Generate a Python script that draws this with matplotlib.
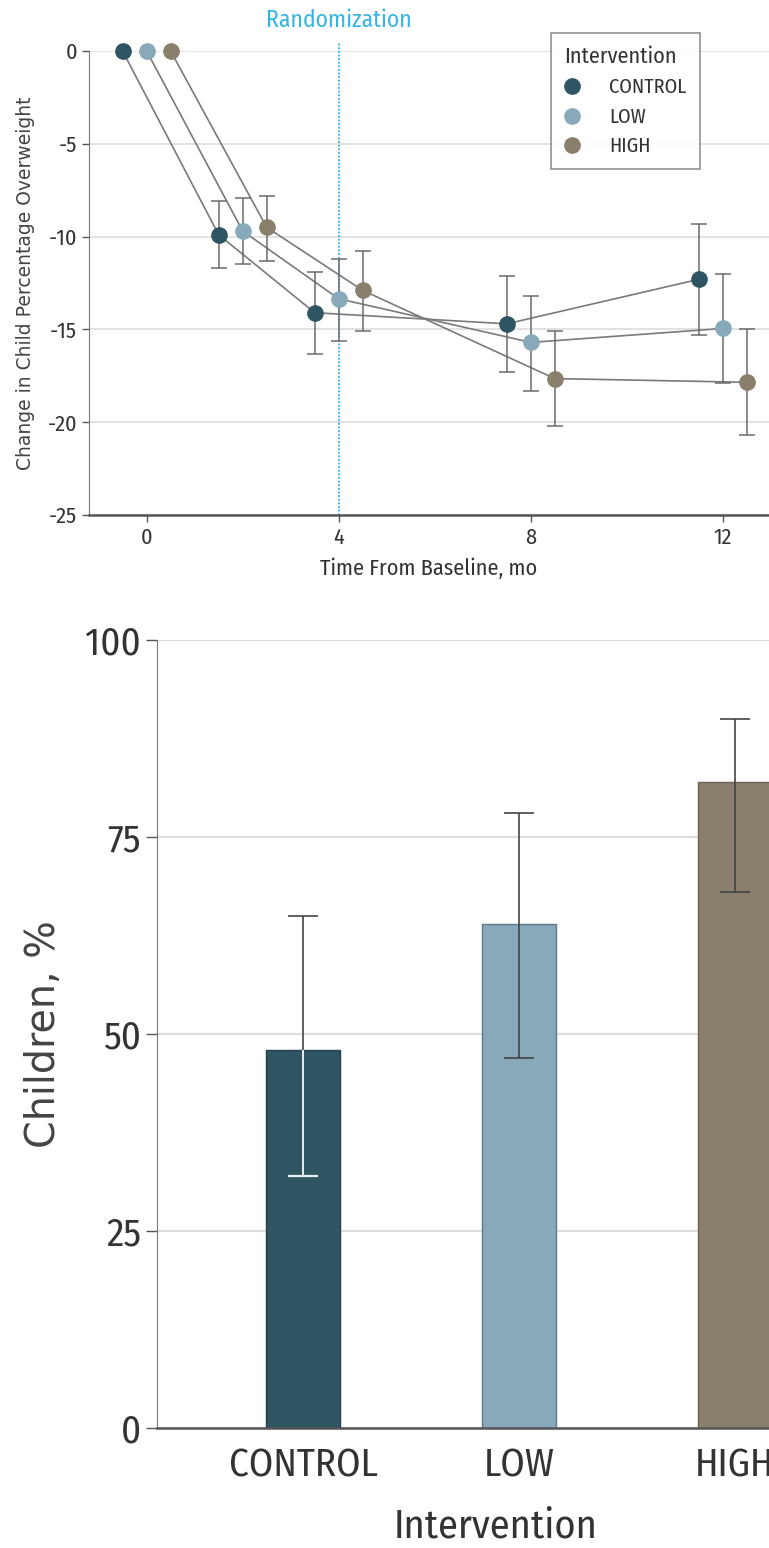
import matplotlib
matplotlib.use('Agg')
import matplotlib.pyplot as plt
import numpy as np
from matplotlib.lines import Line2D
from matplotlib import font_manager as fm

# data
groups = ['CONTROL', 'LOW', 'HIGH']
colors = ['#2e5561', '#87a9ba', '#8a7f6d']
months = np.array([0, 2, 4, 8, 12])
offsets = [-0.5, 0.0, 0.5]

control_change = [0, -9.9, -14.1, -14.7, -12.3]
control_lo = [np.nan, -11.7, -16.3, -17.3, -15.3]
control_hi = [np.nan, -8.1, -11.9, -12.1, -9.3]
low_change = [0, -9.7, -13.35, -15.7, -14.95]
low_lo = [np.nan, -11.5, -15.6, -18.3, -17.9]
low_hi = [np.nan, -7.9, -11.2, -13.2, -12.0]
high_change = [0, -9.5, -12.9, -17.65, -17.85]
high_lo = [np.nan, -11.3, -15.1, -20.2, -20.7]
high_hi = [np.nan, -7.8, -10.8, -15.1, -15.0]

pct_children = [48, 64, 82]
pct_lo = [32, 47, 68]
pct_hi = [65, 78, 90]

# pick a condensed face if one is installed
have = set(f.name for f in fm.fontManager.ttflist)
narrow = [f for f in ['Fira Sans Condensed', 'PT Sans Narrow', 'Roboto Condensed',
                      'Encode Sans Condensed', 'Open Sans'] if f in have][:1] + ['DejaVu Sans']
wide = ['DejaVu Sans']
txt = '#333333'
grid_c = '#dddddd'

fig = plt.figure(figsize=(7.69, 15.48), dpi=100)

# ---- top panel: change over time
ax = fig.add_axes([89/769, 1-515/1548, 1-89/769, (515-51)/1548])
series = [(control_change, control_lo, control_hi),
          (low_change, low_lo, low_hi),
          (high_change, high_lo, high_hi)]
for (vals, lo, hi), off, col in zip(series, offsets, colors):
    x = months + off
    vals = np.array(vals); lo = np.array(lo); hi = np.array(hi)
    ax.plot(x, vals, color='#7a7a7a', lw=1.2, zorder=2)
    ax.errorbar(x, vals, yerr=[vals - lo, hi - vals], fmt='none', ecolor='#6b6b6b',
                elinewidth=1.1, capsize=6, capthick=1.1, zorder=3)
    ax.plot(x, vals, 'o', color=col, ms=11, zorder=4, clip_on=False)

ax.axvline(4, ymin=0, ymax=1.017, color='#2bb3e6', lw=1.3, ls=(0, (1, 1)), zorder=1, clip_on=False)
ax.text(4, 1.65, 'Randomization', color='#36b4e4', ha='center', va='center',
        fontsize=17, family=narrow)

ax.set_xlim(-1.2, 12.96)
ax.set_ylim(-25, 0)
ax.set_xticks([0, 4, 8, 12])
ax.set_yticks([0, -5, -10, -15, -20, -25])
ax.set_yticklabels(['0', '-5', '-10', '-15', '-20', '-25'])
ax.yaxis.grid(True, color=grid_c, lw=1.2)
ax.set_axisbelow(True)
for s in ['top', 'right']:
    ax.spines[s].set_visible(False)
ax.spines['left'].set_color('#777777')
ax.spines['bottom'].set_color('#555555')
ax.spines['bottom'].set_linewidth(1.8)
ax.tick_params(colors='#555555', labelcolor=txt, length=5, width=1)
for lab in ax.get_xticklabels() + ax.get_yticklabels():
    lab.set_family(narrow)
    lab.set_fontsize(16)
ax.set_xlabel('Time From Baseline, mo', fontsize=16, family=narrow, color=txt, labelpad=7)
ax.set_ylabel('Change in Child Percentage Overweight', fontsize=13.5, family=wide, color='#444444', labelpad=9)

handles = [Line2D([], [], marker='o', ls='none', color=c, ms=11) for c in colors]
leg = fig.legend(handles, groups, title='Intervention', loc='upper left',
                 bbox_to_anchor=(551/769, 1-33/1548), frameon=True, fancybox=False,
                 prop={'family': narrow, 'size': 14.5}, handletextpad=1.45,
                 borderpad=0.65, labelspacing=0.5, handlelength=0.8, borderaxespad=0)
leg.get_title().set_family(narrow)
leg.get_title().set_fontsize(16)
leg.get_title().set_color(txt)
for t in leg.get_texts():
    t.set_color(txt)
leg.get_frame().set_edgecolor('#777777')
leg.get_frame().set_linewidth(1.2)
leg._legend_box.align = 'left'

# ---- bottom panel: percentage of children
bx = fig.add_axes([157/769, 1-1428/1548, (835-157)/769, (1428-640)/1548])
pos = np.arange(len(groups))
bx.bar(pos, pct_children, width=0.34, color=colors, edgecolor=['#24434d', '#5f7a87', '#6b6253'],
       linewidth=1, zorder=2)
bx.errorbar(pos, pct_children,
            yerr=[np.subtract(pct_children, pct_lo), np.subtract(pct_hi, pct_children)],
            fmt='none', ecolor='#444444', elinewidth=1.2, capsize=10.5, capthick=1.2, zorder=3)
# the part of the first bar's whisker inside the dark bar shows light
bx.vlines(pos[0], pct_lo[0], pct_children[0], color='#e8eef0', lw=1.4, zorder=4)
bx.hlines(pct_lo[0], pos[0] - 0.068, pos[0] + 0.068, color='#e8eef0', lw=1.6, zorder=4)

bx.set_xlim(-0.676, 2.463)
bx.set_ylim(0, 100)
bx.set_yticks([0, 25, 50, 75, 100])
bx.set_xticks(pos)
bx.set_xticklabels(groups)
bx.yaxis.grid(True, color=grid_c, lw=1.5)
bx.set_axisbelow(True)
for s in ['top', 'right']:
    bx.spines[s].set_visible(False)
bx.spines['left'].set_color('#777777')
bx.spines['bottom'].set_color('#555555')
bx.spines['bottom'].set_linewidth(1.8)
bx.tick_params(axis='y', colors='#555555', labelcolor=txt, length=8, width=1)
bx.tick_params(axis='x', length=0, labelcolor=txt, pad=14)
for lab in bx.get_xticklabels() + bx.get_yticklabels():
    lab.set_family(narrow)
    lab.set_fontsize(28)
bx.set_xlabel('Intervention', fontsize=29, family=narrow, color=txt, labelpad=16)
bx.set_ylabel('Children, %', fontsize=28.5, family=wide, color='#444444', labelpad=15)

fig.savefig('out.png', dpi=100)
